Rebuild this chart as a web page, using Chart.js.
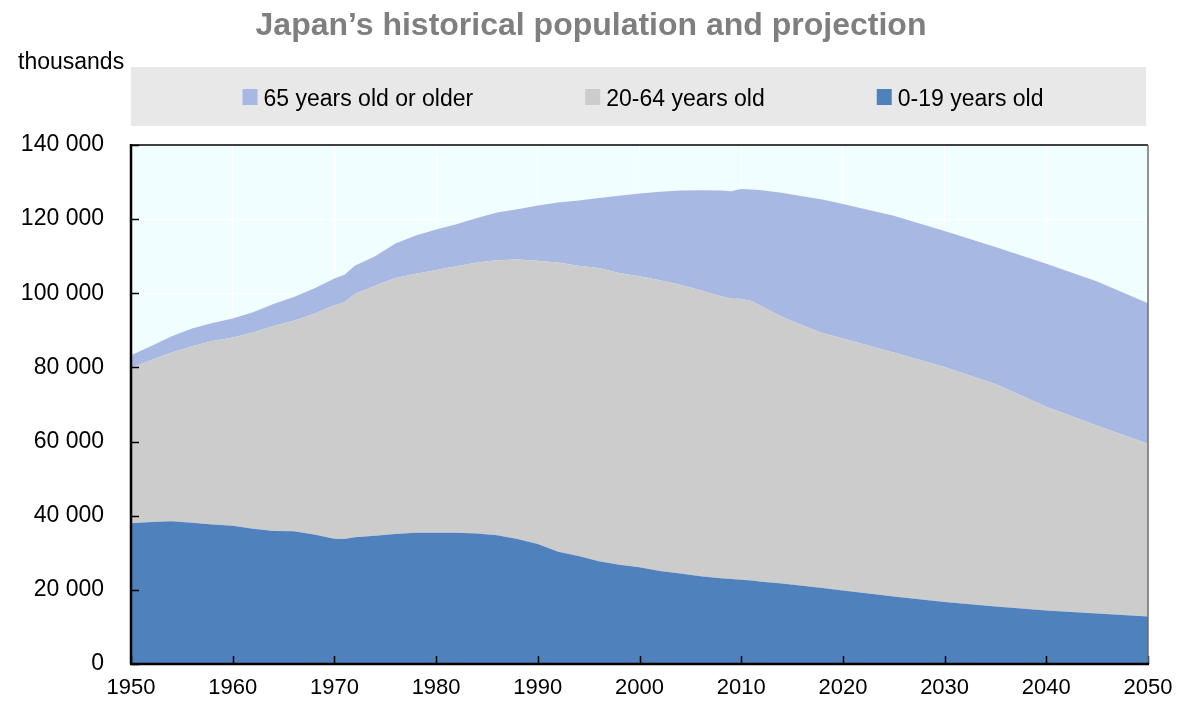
<!DOCTYPE html>
<html>
<head>
<meta charset="utf-8">
<script src="https://cdn.jsdelivr.net/npm/chart.js@4.4.1/dist/chart.umd.min.js"></script>
<style>
  html, body { margin: 0; padding: 0; background: #ffffff; }
  canvas { display: block; }
</style>
</head>
<body>
<canvas id="c" width="1178" height="704"></canvas>
<script>
// ---- Data (thousands of people) ----
const years = [1950, 1952, 1954, 1956, 1958, 1960, 1962, 1964, 1966, 1968,
  1970, 1971, 1972, 1974, 1976, 1978, 1980, 1982, 1984, 1986,
  1988, 1990, 1992, 1994, 1996, 1998, 2000, 2002, 2004, 2006,
  2008, 2009, 2010, 2011, 2012, 2014, 2016, 2018, 2020, 2025,
  2030, 2035, 2040, 2045, 2050];

const age0to19 = [38000, 38300, 38500, 38100, 37600, 37300, 36500, 35900, 35800, 34900,
  33800, 33700, 34200, 34600, 35100, 35400, 35400, 35400, 35200, 34700,
  33700, 32400, 30300, 29100, 27700, 26800, 26100, 25100, 24400, 23700,
  23100, 22900, 22700, 22500, 22200, 21700, 21100, 20500, 19800, 18200,
  16700, 15500, 14400, 13600, 12800];

const age20to64 = [41900, 43700, 45500, 47600, 49500, 50800, 52900, 55300, 56800, 59600,
  63000, 63900, 65600, 67400, 69000, 69900, 70900, 71900, 73100, 74200,
  75400, 76400, 78000, 78300, 79100, 78700, 78500, 78400, 77900, 77100,
  76100, 75600, 75800, 75400, 74300, 72000, 70300, 68800, 68000, 65800,
  63400, 60000, 55000, 50700, 46600];

const age65plus = [3400, 3800, 4400, 4800, 4900, 5100, 5500, 5900, 6400, 6800,
  7200, 7400, 7600, 8000, 9300, 10300, 10900, 11300, 12000, 12900,
  13600, 14900, 16200, 17600, 18900, 20800, 22300, 23900, 25400, 27000,
  28500, 29000, 29600, 30100, 31300, 33400, 34800, 36000, 36300, 36900,
  36700, 37000, 38600, 38900, 37900];

const seriesLabels = ['65 years old or older', '20-64 years old', '0-19 years old'];
const titleText = 'Japan\u2019s historical population and projection';
const unitText = 'thousands';
const yTickValues = [0, 20000, 40000, 60000, 80000, 100000, 120000, 140000];
const xTickValues = [1950, 1960, 1970, 1980, 1990, 2000, 2010, 2020, 2030, 2040, 2050];

// ---- Styles ----
const FONT = "'Liberation Sans', Arial, sans-serif";
const COL_0_19 = '#4f81bd';
const COL_20_64 = '#cccccc';
const COL_65 = '#a7b9e3';
const PLOT_BG = '#f1feff';

function pts(vals) { return years.map((y, i) => ({ x: y, y: vals[i] })); }
function fmt(v) { return String(v).replace(/\B(?=(\d{3})+(?!\d))/g, ' '); }

const decorPlugin = {
  id: 'decor',
  beforeDraw(chart) {
    const { ctx, chartArea: a } = chart;
    ctx.save();
    ctx.fillStyle = PLOT_BG;
    ctx.fillRect(a.left, a.top, a.right - a.left, a.bottom - a.top);
    ctx.restore();
  },
  afterDatasetsDraw(chart) {
    const { ctx, chartArea: a, scales } = chart;
    ctx.save();
    // inner tick marks
    ctx.strokeStyle = '#000000';
    ctx.lineWidth = 1.5;
    yTickValues.forEach(v => {
      const y = Math.round(scales.y.getPixelForValue(v)) + 0.5;
      ctx.beginPath(); ctx.moveTo(a.left, y); ctx.lineTo(a.left + 8, y); ctx.stroke();
    });
    xTickValues.forEach(v => {
      const x = Math.round(scales.x.getPixelForValue(v)) + 0.5;
      ctx.beginPath(); ctx.moveTo(x, a.bottom); ctx.lineTo(x, a.bottom - 8); ctx.stroke();
    });
    // frame
    ctx.lineWidth = 1.5;
    ctx.strokeStyle = '#000000';
    ctx.beginPath(); ctx.moveTo(a.left, a.top); ctx.lineTo(a.right, a.top); ctx.stroke();
    ctx.strokeStyle = '#6e6e6e';
    ctx.beginPath(); ctx.moveTo(a.right, a.top); ctx.lineTo(a.right, a.bottom); ctx.stroke();
    ctx.lineWidth = 2.5;
    ctx.strokeStyle = '#000000';
    ctx.beginPath(); ctx.moveTo(a.left, a.top - 1); ctx.lineTo(a.left, a.bottom); ctx.stroke();
    ctx.beginPath(); ctx.moveTo(a.left - 1, a.bottom); ctx.lineTo(a.right + 1, a.bottom); ctx.stroke();

    // title
    ctx.fillStyle = '#7f7f7f';
    ctx.font = "bold 32px " + FONT;
    ctx.textAlign = 'center';
    ctx.textBaseline = 'alphabetic';
    ctx.fillText(titleText, 591, 35);

    // unit label
    ctx.fillStyle = '#000000';
    ctx.font = "23px " + FONT;
    ctx.textAlign = 'left';
    ctx.fillText(unitText, 18, 69);

    // legend box
    ctx.fillStyle = '#e8e8e8';
    ctx.fillRect(a.left, 67, 1146 - a.left, 59);
    const colors = [COL_65, COL_20_64, COL_0_19];
    ctx.font = "23px " + FONT;
    const box = 15, gapBT = 6, gapItems = 112;
    const widths = seriesLabels.map(t => box + gapBT + ctx.measureText(t).width);
    const total = widths.reduce((s, w) => s + w, 0) + gapItems * (widths.length - 1);
    let x = 643 - total / 2;
    seriesLabels.forEach((t, i) => {
      ctx.fillStyle = colors[i];
      ctx.fillRect(x, 89, box, 16);
      ctx.fillStyle = '#000000';
      ctx.fillText(t, x + box + gapBT, 106);
      x += widths[i] + gapItems;
    });
    ctx.restore();
  }
};

new Chart(document.getElementById('c'), {
  type: 'line',
  data: {
    datasets: [
      { label: seriesLabels[2], data: pts(age0to19), backgroundColor: COL_0_19, fill: 'origin' },
      { label: seriesLabels[1], data: pts(age20to64), backgroundColor: COL_20_64, fill: '-1' },
      { label: seriesLabels[0], data: pts(age65plus), backgroundColor: COL_65, fill: '-1' }
    ].map(d => Object.assign(d, { borderWidth: 0, borderColor: 'rgba(0,0,0,0)', pointRadius: 0, tension: 0 }))
  },
  options: {
    responsive: false,
    animation: false,
    devicePixelRatio: 1,
    layout: { padding: { top: 145, right: 30, left: 0, bottom: 0 } },
    plugins: { legend: { display: false }, title: { display: false }, tooltip: { enabled: false } },
    scales: {
      x: {
        type: 'linear',
        min: 1950, max: 2050,
        afterFit: s => { s.height = 40; s.paddingRight = 0; s.paddingLeft = 0; },
        grid: { color: '#ffffff', lineWidth: 1, drawTicks: false },
        border: { display: false },
        ticks: {
          stepSize: 10, padding: 11, color: '#000000', maxRotation: 0,
          font: { family: FONT, size: 22 },
          callback: v => String(v)
        }
      },
      y: {
        stacked: true,
        min: 0, max: 140000,
        afterFit: s => { s.width = 131; s.paddingTop = 0; s.paddingBottom = 0; },
        grid: { color: '#ffffff', lineWidth: 1, drawTicks: false },
        border: { display: false },
        ticks: {
          stepSize: 20000, padding: 27, color: '#000000',
          font: { family: FONT, size: 23 },
          callback: v => fmt(v)
        }
      }
    }
  },
  plugins: [decorPlugin]
});
</script>
</body>
</html>
